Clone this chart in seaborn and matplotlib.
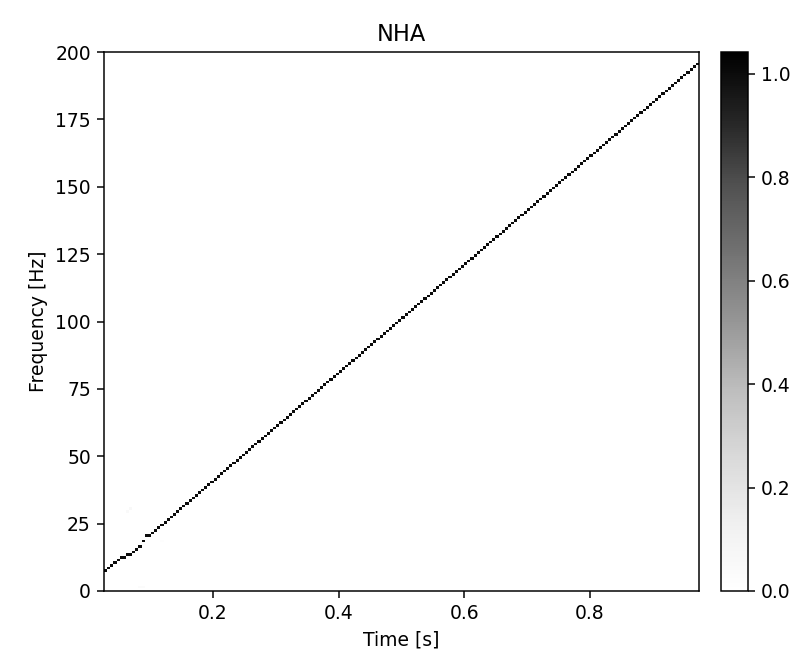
import numpy as np
import matplotlib
matplotlib.use("Agg")
import matplotlib.pyplot as plt
import seaborn as sns

# ---- data ----
t_start, t_end = 0.0265, 0.9735        # time extent of the frames [s]
n_frames = 190                         # number of time frames
n_freq_bins = 200                      # 1 Hz bins, 0..200 Hz

# frequency bin (Hz) of the ridge in each time frame
ridge_bins = [
    7, 8, 9, 10, 11, 12, 12, 13, 13, 14, 15, 16, 18, 20, 20, 21,
    22, 23, 24, 25, 26, 27, 28, 29, 30, 31, 32, 33, 34, 35, 36, 37,
    38, 39, 40, 41, 42, 43, 44, 45, 46, 47, 48, 49, 50, 51, 52, 53,
    54, 55, 56, 57, 58, 59, 60, 61, 62, 63, 64, 65, 66, 67, 68, 69,
    70, 71, 72, 73, 74, 75, 76, 77, 78, 79, 80, 81, 82, 83, 84, 85,
    86, 87, 88, 89, 90, 91, 92, 93, 94, 95, 96, 97, 98, 99, 100, 101,
    102, 103, 104, 105, 106, 107, 108, 109, 110, 111, 112, 113, 114, 115, 116, 117,
    118, 119, 120, 121, 122, 123, 124, 125, 126, 127, 128, 129, 130, 131, 132, 133,
    134, 135, 136, 137, 138, 139, 140, 141, 142, 143, 144, 145, 146, 147, 148, 149,
    150, 151, 152, 153, 154, 155, 156, 157, 158, 159, 160, 161, 162, 163, 164, 165,
    166, 167, 168, 169, 170, 171, 172, 173, 174, 175, 176, 177, 178, 179, 180, 181,
    182, 183, 184, 185, 186, 187, 188, 189, 190, 191, 192, 193, 194, 195,
]
ridge_level = 1.0

# faint spurious cells
artifact_frames = [7, 8, 11, 12, 18]
artifact_bins = [29, 30, 1, 1, 18]
artifact_levels = [0.05, 0.06, 0.04, 0.04, 0.02]

color_max = 1.042
x_ticks = [0.2, 0.4, 0.6, 0.8]
y_ticks = [0, 25, 50, 75, 100, 125, 150, 175, 200]
cbar_ticks = [0.0, 0.2, 0.4, 0.6, 0.8, 1.0]

# ---- build the time-frequency matrix ----
tfr = np.zeros((n_freq_bins, n_frames))
tfr[np.array(ridge_bins), np.arange(n_frames)] = ridge_level
for fr, b, v in zip(artifact_frames, artifact_bins, artifact_levels):
    tfr[b, fr] = v

dpi = 135
fig = plt.figure(figsize=(799 / dpi, 657 / dpi), dpi=dpi)
ax = fig.add_axes([104 / 799, 66 / 657, 595 / 799, 539 / 657])
cax = fig.add_axes([720.5 / 799, 66 / 657, 27.5 / 799, 539 / 657])

sns.heatmap(tfr, ax=ax, cbar_ax=cax, cmap="Greys", vmin=0, vmax=color_max,
            xticklabels=False, yticklabels=False)

ax.set_xlim(0, n_frames)
ax.set_ylim(0, n_freq_bins)
dt = (t_end - t_start) / n_frames
ax.set_xticks([(t - t_start) / dt for t in x_ticks])
ax.set_xticklabels([f"{t:.1f}" for t in x_ticks], rotation=0)
ax.set_yticks(y_ticks)
ax.set_yticklabels([str(v) for v in y_ticks], rotation=0)
for s in ax.spines.values():
    s.set_visible(True)
    s.set_linewidth(0.8)
    s.set_color("black")
ax.tick_params(length=3.5, width=0.8, direction="out", left=True, bottom=True)
ax.set_title("NHA")
ax.set_xlabel("Time [s]")
ax.set_ylabel("Frequency [Hz]")

cb = ax.collections[0].colorbar
cb.outline.set_visible(True)
cb.outline.set_linewidth(0.8)
cb.outline.set_edgecolor("black")
cb.set_ticks(cbar_ticks)
cb.set_ticklabels([f"{v:.1f}" for v in cbar_ticks])
cb.ax.tick_params(length=3.5, width=0.8)

fig.savefig("out.png", dpi=dpi)
